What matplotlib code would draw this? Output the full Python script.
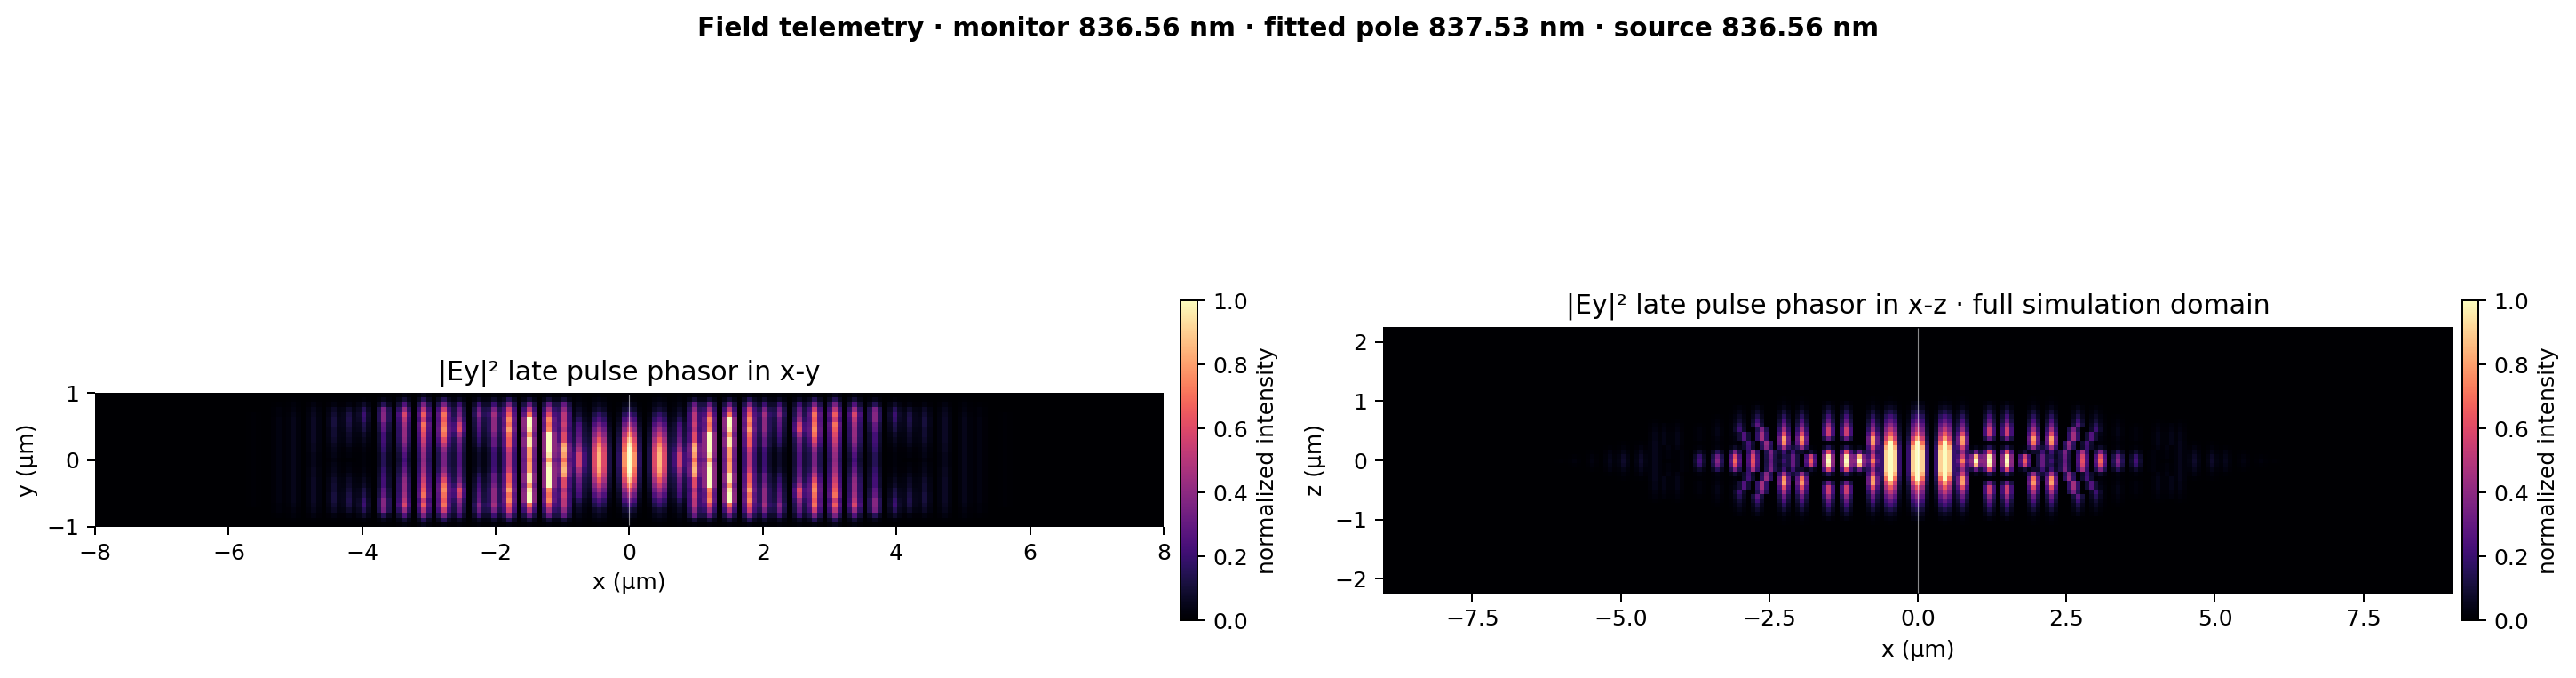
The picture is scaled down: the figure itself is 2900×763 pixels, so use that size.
import matplotlib
matplotlib.use("Agg")
import matplotlib.pyplot as plt
import numpy as np

W, H = 2900, 763
DPI = 180
CELL = 0.075  # um per grid cell

suptitle = "Field telemetry · monitor 836.56 nm · fitted pole 837.53 nm · source 836.56 nm"
title_xy = "|Ey|² late pulse phasor in x-y"
title_xz = "|Ey|² late pulse phasor in x-z · full simulation domain"
xlim_xy, ylim_xy = (-8, 8), (-1, 1)
xlim_xz, ylim_xz = (-9, 9), (-2.25, 2.25)
xticks_xy = [-8, -6, -4, -2, 0, 2, 4, 6, 8]
yticks_xy = [-1, 0, 1]
xticks_xz = [-7.5, -5.0, -2.5, 0.0, 2.5, 5.0, 7.5]
yticks_xz = [-2, -1, 0, 1, 2]
source_x = 0.0
source_half_xy = 0.98
source_half_xz = 2.235

# fringe profiles across x (cells either side of the fringe centre)
wide = [0.15, 0.7, 1.0, 0.7, 0.15]
narrow = [0.4, 1.0, 0.4]

# x-y panel: fringe centres |x| and peak intensity per row, row 0 at y=0
xy_fringe_x = [0.0, 0.45, 0.75, 0.97, 1.22, 1.52, 1.78, 2.05, 2.28, 2.52, 2.80,
               3.09, 3.38, 3.66, 3.94, 4.17, 4.41, 4.70, 4.99, 5.27, 5.60]
xy_fringe_width = ["wide", "wide"] + ["narrow"] * 19
xy_rows = [
    [1.1, 1.1, 1.0, .95, .85, .72, .58, .45, .33, .22, .12, .06, .02, .01],
    [.85, .85, .82, .75, .65, .55, .45, .35, .25, .18, .10, .06, .03, .01],
    [.55, .55, .45, .38, .32, .28, .25, .22, .15, .10, .07, .04, .02, .01],
    [.70, .80, .85, .80, .60, .60, .50, .55, .50, .50, .40, .30, .10, .02],
    [.80, .95, 1.0, 1.0, 1.0, 1.0, .75, .70, .75, .60, .45, .30, .10, .02],
    [.75, .80, .80, .95, .95, .80, .95, 1.0, 1.0, .70, .50, .30, .10, .02],
    [.50, .50, .55, .65, .65, .70, .80, .70, .75, .65, .55, .35, .15, .03],
    [.20, .20, .22, .30, .30, .35, .40, .40, .40, .45, .35, .20, .08, .02],
    [.08, .08, .10, .15, .18, .22, .25, .28, .30, .38, .32, .20, .07, .02],
    [.25, .25, .28, .30, .35, .45, .60, .55, .42, .35, .30, .20, .07, .02],
    [.35, .35, .40, .50, .60, .70, .75, .70, .65, .70, .55, .35, .15, .03],
    [.40, .42, .45, .50, .55, .60, .65, .70, .55, .65, .50, .35, .15, .05],
    [.22, .25, .30, .35, .40, .42, .42, .45, .50, .58, .42, .25, .10, .03],
    [.15, .15, .18, .20, .22, .22, .28, .30, .38, .38, .35, .15, .05, .01],
    [.02, .02, .03, .04, .06, .08, .12, .14, .18, .20, .15, .08, .02, .00],
    [.01, .02, .03, .05, .07, .08, .10, .12, .13, .12, .08, .03, .01, .00],
    [.03, .04, .05, .06, .08, .09, .09, .11, .11, .09, .07, .03, .01, .00],
    [.05, .05, .06, .06, .07, .07, .07, .07, .07, .06, .05, .03, .01, .00],
    [.05, .05, .05, .05, .05, .05, .05, .05, .05, .04, .03, .02, .01, .00],
    [.03, .03, .03, .03, .03, .03, .03, .03, .03, .02, .02, .01, .00, .00],
    [.01, .01, .01, .01, .01, .01, .01, .01, .01, .01, .00, .00, .00, .00],
]
xy_bend = [[0] * 14] * len(xy_fringe_x)

# x-z panel: same layout, plus a shift in cells per row for the chevron arms
xz_fringe_x = [0.0, 0.44, 0.74, 0.97, 1.21, 1.52, 1.81, 1.95, 2.07, 2.28, 2.50,
               2.80, 3.08, 3.38, 3.65, 3.95, 4.20, 4.40, 4.65, 4.92, 5.20, 5.50,
               5.75, 6.00]
xz_fringe_width = ["wide", "wide"] + ["narrow"] * 22
xz_rows = [
    [1.3, 1.3, 1.3, 1.2, 1.0, .80, .62, .50, .40, .30, .22, .14, .08, .04, .01],
    [1.3, 1.3, 1.3, 1.2, 1.0, .80, .65, .52, .40, .30, .22, .13, .07, .03, .01],
    [.72, .55, .42, .55, .78, .80, .60, .42, .32, .24, .16, .10, .05, .02, .01],
    [1.0, .85, .30, .05, .00, .00, .00, .00, .00, .00, .00, .00, .00, .00, .00],
    [1.0, .95, .60, .15, .03, .30, .55, .55, .40, .30, .22, .14, .08, .03, .00],
    [1.0, .95, .60, .15, .03, .30, .55, .55, .42, .30, .22, .14, .08, .03, .00],
    [.65, .55, .10, .02, .00, .00, .00, .00, .00, .00, .00, .00, .00, .00, .00],
    [.00, .00, .08, .40, .70, .78, .60, .45, .32, .24, .16, .10, .05, .02, .01],
    [.30, .30, .20, .10, .05, .00, .00, .00, .00, .00, .00, .00, .00, .00, .00],
    [.20, .15, .20, .45, .75, .80, .60, .45, .32, .24, .16, .10, .05, .02, .01],
    [.30, .32, .35, .38, .42, .45, .45, .35, .28, .20, .13, .08, .04, .01, .00],
    [.62, .58, .45, .20, .22, .25, .25, .20, .15, .10, .07, .04, .02, .00, .00],
    [.68, .60, .35, .08, .02, .03, .04, .04, .04, .03, .02, .01, .00, .00, .00],
    [.38, .32, .15, .03, .02, .03, .04, .04, .03, .02, .01, .00, .00, .00, .00],
    [.22, .18, .08, .02, .01, .02, .02, .02, .01, .00, .00, .00, .00, .00, .00],
    [.02, .02, .02, .03, .04, .04, .04, .03, .02, .01, .00, .00, .00, .00, .00],
    [.01, .02, .02, .03, .04, .04, .04, .03, .02, .00, .00, .00, .00, .00, .00],
    [.05, .05, .05, .05, .05, .04, .04, .03, .02, .01, .00, .00, .00, .00, .00],
    [.08, .07, .05, .03, .01, .00, .00, .00, .00, .00, .00, .00, .00, .00, .00],
    [.08, .07, .04, .02, .01, .00, .00, .00, .00, .00, .00, .00, .00, .00, .00],
    [.05, .04, .03, .01, .00, .00, .00, .00, .00, .00, .00, .00, .00, .00, .00],
    [.03, .02, .01, .00, .00, .00, .00, .00, .00, .00, .00, .00, .00, .00, .00],
    [.02, .01, .00, .00, .00, .00, .00, .00, .00, .00, .00, .00, .00, .00, .00],
    [.01, .00, .00, .00, .00, .00, .00, .00, .00, .00, .00, .00, .00, .00, .00],
]
xz_bend = [[0] * 15 for _ in xz_fringe_x]
xz_bend[10] = [0, 0, 0, 1, 1, 2, 2, 2, 3, 3, 3, 3, 3, 3, 3]
xz_bend[11] = [0, 0, 0, 1, 1, 2, 2, 3, 3, 3, 3, 3, 3, 3, 3]
xz_bend[15] = [0, 0, 0, 1, 1, 1, 1, 1, 1, 1, 1, 1, 1, 1, 1]
xz_bend[16] = [0, 0, 0, 0, 1, 1, 1, 1, 1, 1, 1, 1, 1, 1, 1]


def fill_field(fringe_x, widths, rows, bend, half_cols, half_rows):
    field = np.zeros((2 * half_rows + 1, 2 * half_cols + 1))
    for fx, width, peaks, shift in zip(fringe_x, widths, rows, bend):
        centre = int(round(fx / CELL))
        profile = wide if width == "wide" else narrow
        reach = len(profile) // 2
        for r, peak in enumerate(peaks):
            for k, weight in enumerate(profile):
                col = centre + shift[r] + k - reach
                if col < 0:
                    continue
                for sr in (half_rows + r, half_rows - r):
                    for sc in (half_cols + col, half_cols - col):
                        field[sr, sc] = max(field[sr, sc], peak * weight)
    return np.clip(field, 0, 1)


def px_axes(fig, left, top, right, bottom):
    return fig.add_axes([left / W, 1 - bottom / H, (right - left) / W, (bottom - top) / H])


def panel(fig, field, half_cols, half_rows, box, cbar_box, xlim, ylim, xticks, yticks,
          title, ylabel, source_half):
    ax = px_axes(fig, *box)
    extent = [-(half_cols + .5) * CELL, (half_cols + .5) * CELL,
              -(half_rows + .5) * CELL, (half_rows + .5) * CELL]
    im = ax.imshow(field, cmap="magma", vmin=0, vmax=1, extent=extent, origin="lower",
                   interpolation="nearest", aspect="auto")
    ax.vlines(source_x, -source_half, source_half, color="white", lw=0.45, alpha=0.55)
    ax.set_xlim(*xlim)
    ax.set_ylim(*ylim)
    ax.set_xticks(xticks)
    ax.set_yticks(yticks)
    ax.set_xlabel("x (µm)")
    ax.set_ylabel(ylabel)
    ax.set_title(title)
    for s in ax.spines.values():
        s.set_visible(False)
    cax = px_axes(fig, *cbar_box)
    fig.colorbar(im, cax=cax, label="normalized intensity")
    return ax


fig = plt.figure(figsize=(W / DPI, H / DPI), dpi=DPI)
fig.suptitle(suptitle, fontweight="bold", fontsize=11.87, y=0.958, x=0.5, va="center")

panel(fig, fill_field(xy_fringe_x, xy_fringe_width, xy_rows, xy_bend, 107, 14), 107, 14,
      (107, 442, 1310, 593), (1329, 338, 1348, 698), xlim_xy, ylim_xy, xticks_xy, yticks_xy,
      title_xy, "y (µm)", source_half_xy)
panel(fig, fill_field(xz_fringe_x, xz_fringe_width, xz_rows, xz_bend, 121, 31), 121, 31,
      (1557, 368, 2761, 668), (2772, 338, 2790, 698), xlim_xz, ylim_xz, xticks_xz, yticks_xz,
      title_xz, "z (µm)", source_half_xz)

fig.savefig("out.png", dpi=DPI)
